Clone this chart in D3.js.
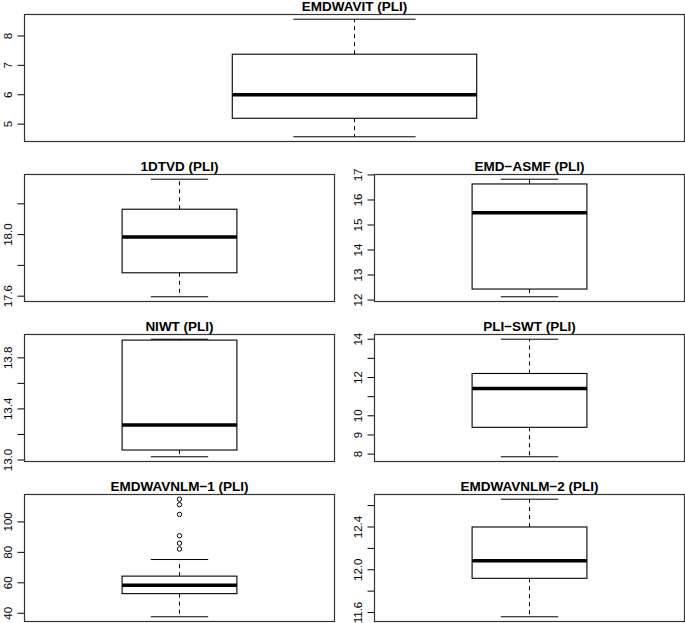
<!DOCTYPE html>
<html>
<head>
<meta charset="utf-8" />
<style>
body {
	margin: 0;
	font-family: "Liberation Sans", Arial, Helvetica;
	background: white;
}
svg {
	display: block;
}
.frame {
	fill: none;
	stroke: #333;
	stroke-width: 1.2;
}
.title {
	font-size: 13.5px;
	font-weight: bold;
	text-anchor: middle;
}
.tick-label {
	font-size: 11.5px;
	text-anchor: middle;
}
.box {
	fill: white;
	stroke: black;
	stroke-width: 1.1;
}
.median {
	stroke: black;
	stroke-width: 3.5;
}
.whisker {
	stroke: black;
	stroke-width: 1;
	stroke-dasharray: 4,4;
}
.cap, .tick {
	stroke: black;
	stroke-width: 1;
}
.outlier {
	fill: none;
	stroke: black;
	stroke-width: 1;
}
</style>
</head>
<body>
<script src="https://cdn.jsdelivr.net/npm/d3@7"></script>
<script>
var panelNames = ["EMDWAVIT (PLI)", "1DTVD (PLI)", "EMD\u2212ASMF (PLI)", "NIWT (PLI)",
    "PLI\u2212SWT (PLI)", "EMDWAVNLM\u22121 (PLI)", "EMDWAVNLM\u22122 (PLI)"];

var lowWhisker = [4.57, 17.596, 12.13, 13.025, 7.86, 37.7, 11.56];
var lowerQuartile = [5.2, 17.752, 12.44, 13.078, 9.4, 52.9, 11.92];
var medians = [6.0, 17.985, 15.49, 13.275, 11.43, 58.4, 12.084];
var upperQuartile = [7.38, 18.165, 16.64, 13.939, 12.21, 64.4, 12.4];
var highWhisker = [8.57, 18.36, 16.83, 13.946, 14.0, 75.3, 12.66];
var outliers = [[], [], [], [], [], [114.9, 111.3, 104.9, 90.9, 86.0, 82.2], []];

var tickValues = [[5, 6, 7, 8],
    [17.6, 17.8, 18.0, 18.2],
    [12, 13, 14, 15, 16, 17],
    [13.0, 13.2, 13.4, 13.6, 13.8],
    [8, 9, 10, 11, 12, 13, 14],
    [40, 60, 80, 100],
    [11.6, 11.8, 12.0, 12.2, 12.4, 12.6]];
var tickLabels = [["5", "6", "7", "8"],
    ["17.6", "", "18.0", ""],
    ["12", "13", "14", "15", "16", "17"],
    ["13.0", "", "13.4", "", "13.8"],
    ["8", "9", "10", "", "12", "", "14"],
    ["40", "60", "80", "100"],
    ["11.6", "", "12.0", "", "12.4", ""]];

// panel frames: left, top, width
var frameHeight = 127;
var panelPos = [[24.5, 14.5, 660],
    [24.5, 174.5, 310], [374.5, 174.5, 310],
    [24.5, 334.5, 310], [374.5, 334.5, 310],
    [24.5, 494.5, 310], [374.5, 494.5, 310]];

var svg = d3.select("body").append("svg")
	.attr("width", 685)
	.attr("height", 623);

function drawPanel(i) {
	var px = panelPos[i][0], py = panelPos[i][1], w = panelPos[i][2];

	// R style: range of data padded 4% on each side
	var lo = d3.min([lowWhisker[i]].concat(outliers[i])),
	    hi = d3.max([highWhisker[i]].concat(outliers[i])),
	    pad = (hi - lo) * 0.04;

	var y = d3.scaleLinear().domain([lo - pad, hi + pad]).range([frameHeight, 0]);
	var x = d3.scaleLinear().domain([0.46, 1.54]).range([0, w]);

	var g = svg.append("g")
		.attr("transform", "translate(" + px + "," + py + ")");

	g.append("text")
		.attr("class", "title")
		.attr("x", w / 2)
		.attr("y", -3.5)
		.text(panelNames[i]);

	// whiskers
	g.append("line")
		.attr("class", "whisker")
		.attr("x1", x(1)).attr("x2", x(1))
		.attr("y1", y(upperQuartile[i])).attr("y2", y(highWhisker[i]));
	g.append("line")
		.attr("class", "whisker")
		.attr("x1", x(1)).attr("x2", x(1))
		.attr("y1", y(lowerQuartile[i])).attr("y2", y(lowWhisker[i]));

	// caps
	[lowWhisker[i], highWhisker[i]].forEach(function(v) {
		g.append("line")
			.attr("class", "cap")
			.attr("x1", x(0.9)).attr("x2", x(1.1))
			.attr("y1", y(v)).attr("y2", y(v));
	});

	g.append("rect")
		.attr("class", "box")
		.attr("x", x(0.8))
		.attr("y", y(upperQuartile[i]))
		.attr("width", x(1.2) - x(0.8))
		.attr("height", y(lowerQuartile[i]) - y(upperQuartile[i]));

	g.append("line")
		.attr("class", "median")
		.attr("x1", x(0.8)).attr("x2", x(1.2))
		.attr("y1", y(medians[i])).attr("y2", y(medians[i]));

	g.selectAll("circle.outlier")
		.data(outliers[i])
		.enter().append("circle")
		.attr("class", "outlier")
		.attr("cx", x(1))
		.attr("cy", function(d) { return y(d); })
		.attr("r", 2.2);

	// left axis
	var ticks = tickValues[i];
	g.append("line")
		.attr("class", "tick")
		.attr("x1", 0).attr("x2", 0)
		.attr("y1", y(ticks[0])).attr("y2", y(ticks[ticks.length - 1]));
	for (var t = 0; t < ticks.length; t++) {
		g.append("line")
			.attr("class", "tick")
			.attr("x1", -7).attr("x2", 0)
			.attr("y1", y(ticks[t])).attr("y2", y(ticks[t]));
		if (tickLabels[i][t] !== "") {
			g.append("text")
				.attr("class", "tick-label")
				.attr("transform", "translate(-13," + y(ticks[t]) + ") rotate(-90)")
				.text(tickLabels[i][t]);
		}
	}

	g.append("rect")
		.attr("class", "frame")
		.attr("x", 0)
		.attr("y", 0)
		.attr("width", w)
		.attr("height", frameHeight);
}

for (var i = 0; i < panelNames.length; i++) {
	drawPanel(i);
}
</script>
</body>
</html>
